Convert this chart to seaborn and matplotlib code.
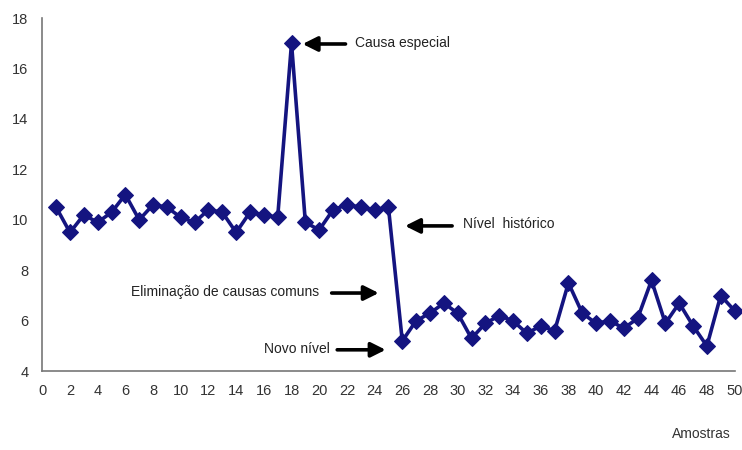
import matplotlib
matplotlib.use("Agg")
import matplotlib.pyplot as plt
import seaborn as sns
import pandas as pd

amostras = list(range(1, 51))
valores = [10.5, 9.5, 10.2, 9.9, 10.3, 11.0, 10.0, 10.6, 10.5, 10.1,
           9.9, 10.4, 10.3, 9.5, 10.3, 10.2, 10.1, 17.0, 9.9, 9.6,
           10.4, 10.6, 10.5, 10.4, 10.5, 5.2, 6.0, 6.3, 6.7, 6.3,
           5.3, 5.9, 6.2, 6.0, 5.5, 5.8, 5.6, 7.5, 6.3, 5.9,
           6.0, 5.7, 6.1, 7.6, 5.9, 6.7, 5.8, 5.0, 7.0, 6.4]
x_ticks = list(range(0, 51, 2))
y_ticks = [4, 6, 8, 10, 12, 14, 16, 18]

sns.set_style("white")
plt.rcParams['font.family'] = ['Liberation Sans', 'DejaVu Sans']

df = pd.DataFrame({"Amostras": amostras, "Valor": valores})

fig = plt.figure(figsize=(7.42, 4.5), dpi=100)
ax = fig.add_axes([0.057, 0.175, 0.933, 0.785])
navy = "#141480"
sns.lineplot(data=df, x="Amostras", y="Valor", ax=ax, color=navy, lw=2.6,
             marker="D", markersize=8, markeredgecolor=navy, markerfacecolor=navy,
             clip_on=False)

ax.set_xlim(0, 50)
ax.set_ylim(4, 18)
ax.set_xticks(x_ticks)
ax.set_yticks(y_ticks)
ax.tick_params(axis='both', labelsize=10.5, colors="#333333", length=4, width=1,
               direction='out', pad=6)
ax.tick_params(axis='x', direction='inout', length=7)
for s in ["top", "right"]:
    ax.spines[s].set_visible(False)
for s in ["left", "bottom"]:
    ax.spines[s].set_color("#777777")
    ax.spines[s].set_linewidth(1.2)
ax.set_xlabel("")
ax.set_ylabel("")
fig.text(0.985, 0.02, "Amostras", ha="right", va="bottom", fontsize=10, color="#333333")

arrow = dict(arrowstyle="-|>", lw=2.6, color="black", mutation_scale=22,
             shrinkA=0, shrinkB=0)
ax.annotate("", xy=(18.8, 16.97), xytext=(21.9, 16.97), arrowprops=arrow)
ax.text(22.6, 17.0, "Causa especial", fontsize=10, va="center", ha="left", color="#222222")
ax.annotate("", xy=(26.2, 9.76), xytext=(29.6, 9.76), arrowprops=arrow)
ax.text(30.4, 9.84, "Nível  histórico", fontsize=10, va="center", ha="left", color="#222222")
ax.annotate("", xy=(24.3, 7.1), xytext=(20.9, 7.1), arrowprops=arrow)
ax.text(20.0, 7.16, "Eliminação de causas comuns", fontsize=10, va="center", ha="right", color="#222222")
ax.annotate("", xy=(24.8, 4.85), xytext=(21.3, 4.85), arrowprops=arrow)
ax.text(20.8, 4.9, "Novo nível", fontsize=10, va="center", ha="right", color="#222222")

fig.savefig("out.png", dpi=100)
